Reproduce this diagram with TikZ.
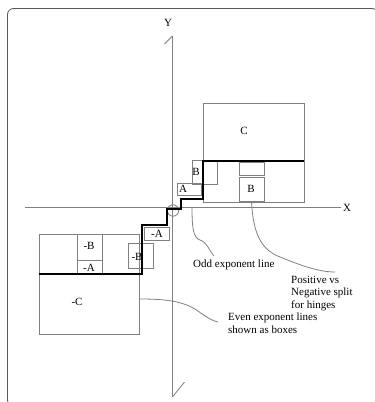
\documentclass[tikz,border=0pt]{standalone}
\usepackage{fontspec}
\setmainfont{Liberation Serif}
\definecolor{gristrait}{gray}{0.5}
\definecolor{griscadre}{gray}{0.35}
\begin{document}
\begin{tikzpicture}[x=1pt,y=-1pt,
  trait/.style={draw=gristrait, line width=0.8pt},
  boite/.style={draw=gristrait, line width=0.8pt, inner sep=0pt, outer sep=0pt, anchor=north west},
  impair/.style={draw=black, line width=2pt},
  etiq/.style={inner sep=0pt, font=\fontsize{11}{12.5}\selectfont},
  note/.style={etiq, align=left, anchor=north west}]
	\useasboundingbox (0,0) rectangle (375,402);
	%Cadre
	\draw[rounded corners=6pt, draw=griscadre, line width=0.8pt] (7.5,8.5) rectangle (378,406);
	%Axes
	\coordinate (Yh) at (172.5,36);
	\coordinate (Yb) at (172.5,397);
	\coordinate (Xg) at (25,207.5);
	\coordinate (Xd) at (341,207.5);
	\draw[trait] (Yh) -- (Yb);
	\draw[trait] (Yh) -- ++(-8,8);
	\draw[trait] (Yb) -- ++(12,-15);
	\draw[trait] (Xg) -- (Xd);
	\node[etiq] (Ylab) at (168,23) {Y};
	\node[etiq, anchor=west] (Xlab) at (343,208) {X};
	\draw[trait] (173,210.5) circle (5.7);
	%Boites paires
	\node[boite, minimum width=101pt, minimum height=99pt] (C) at (203,103) {};
	\node[boite, minimum width=25pt, minimum height=13pt] (Bh) at (239,162) {};
	\node[boite, minimum width=25pt, minimum height=24pt] (B) at (239,177) {};
	\node[boite, minimum width=25pt, minimum height=24pt] (B2) at (192,160) {};
	\node[boite, minimum width=24pt, minimum height=12pt] (A) at (177,183) {};
	\node[boite, minimum width=25pt, minimum height=13pt] (mA) at (144,227) {};
	\node[boite, minimum width=25pt, minimum height=25pt] (mB2) at (128,243) {};
	\node[boite, minimum width=100pt, minimum height=100pt] (mC) at (39,234) {};
	\node[boite, minimum width=25pt, minimum height=26pt] (mB) at (77,234) {};
	\node[boite, minimum width=25pt, minimum height=14pt] (mAb) at (77,260) {};
	%Textes des boites
	\node[etiq] (Clab) at (244,131) {C};
	\node[etiq] (Blab) at (251,189) {B};
	\node[etiq] (B2lab) at (196,172) {B};
	\node[etiq] (Alab) at (183,189) {A};
	\node[etiq] (mAlab) at (157,234) {-A};
	\node[etiq] (mB2lab) at (137,257) {-B};
	\node[etiq] (mClab) at (77,302) {-C};
	\node[etiq] (mBlab) at (89,246) {-B};
	\node[etiq] (mAblab) at (89,268) {-A};
	%Ligne impaire
	\draw[impair] (C.east |- 0,161) -- (203,161) -- (203,199) -- (181,199) -- (181,209)
		-- (167,209) -- (167,225) -- (142,225) -- (142,274) -- (mC.west |- 0,274);
	%Notes
	\node[note] (impnote) at (193,260) {Odd exponent line};
	\node[note] (charn) at (291,276) {Positive vs\\Negative split\\for hinges};
	\node[note] (pairnote) at (228,313) {Even exponent lines\\shown as boxes};
	\coordinate (impfin) at (214,256);
	\coordinate (charfin) at (335,272);
	\coordinate (pairfin) at (218,322);
	\draw[trait] (192,207.5) .. controls (192,226) and (193,238) .. (200,240)
		.. controls (207,242) and (210,252) .. (impfin);
	\draw[trait] (B.south) .. controls (253,235) and (262,250) .. (280,257)
		.. controls (300,265) and (318,272) .. (charfin);
	\draw[trait] (mC.east |- 0,299) .. controls (160,299) and (180,300) .. (195,309)
		.. controls (205,316) and (212,321) .. (pairfin);
\end{tikzpicture}
\end{document}
